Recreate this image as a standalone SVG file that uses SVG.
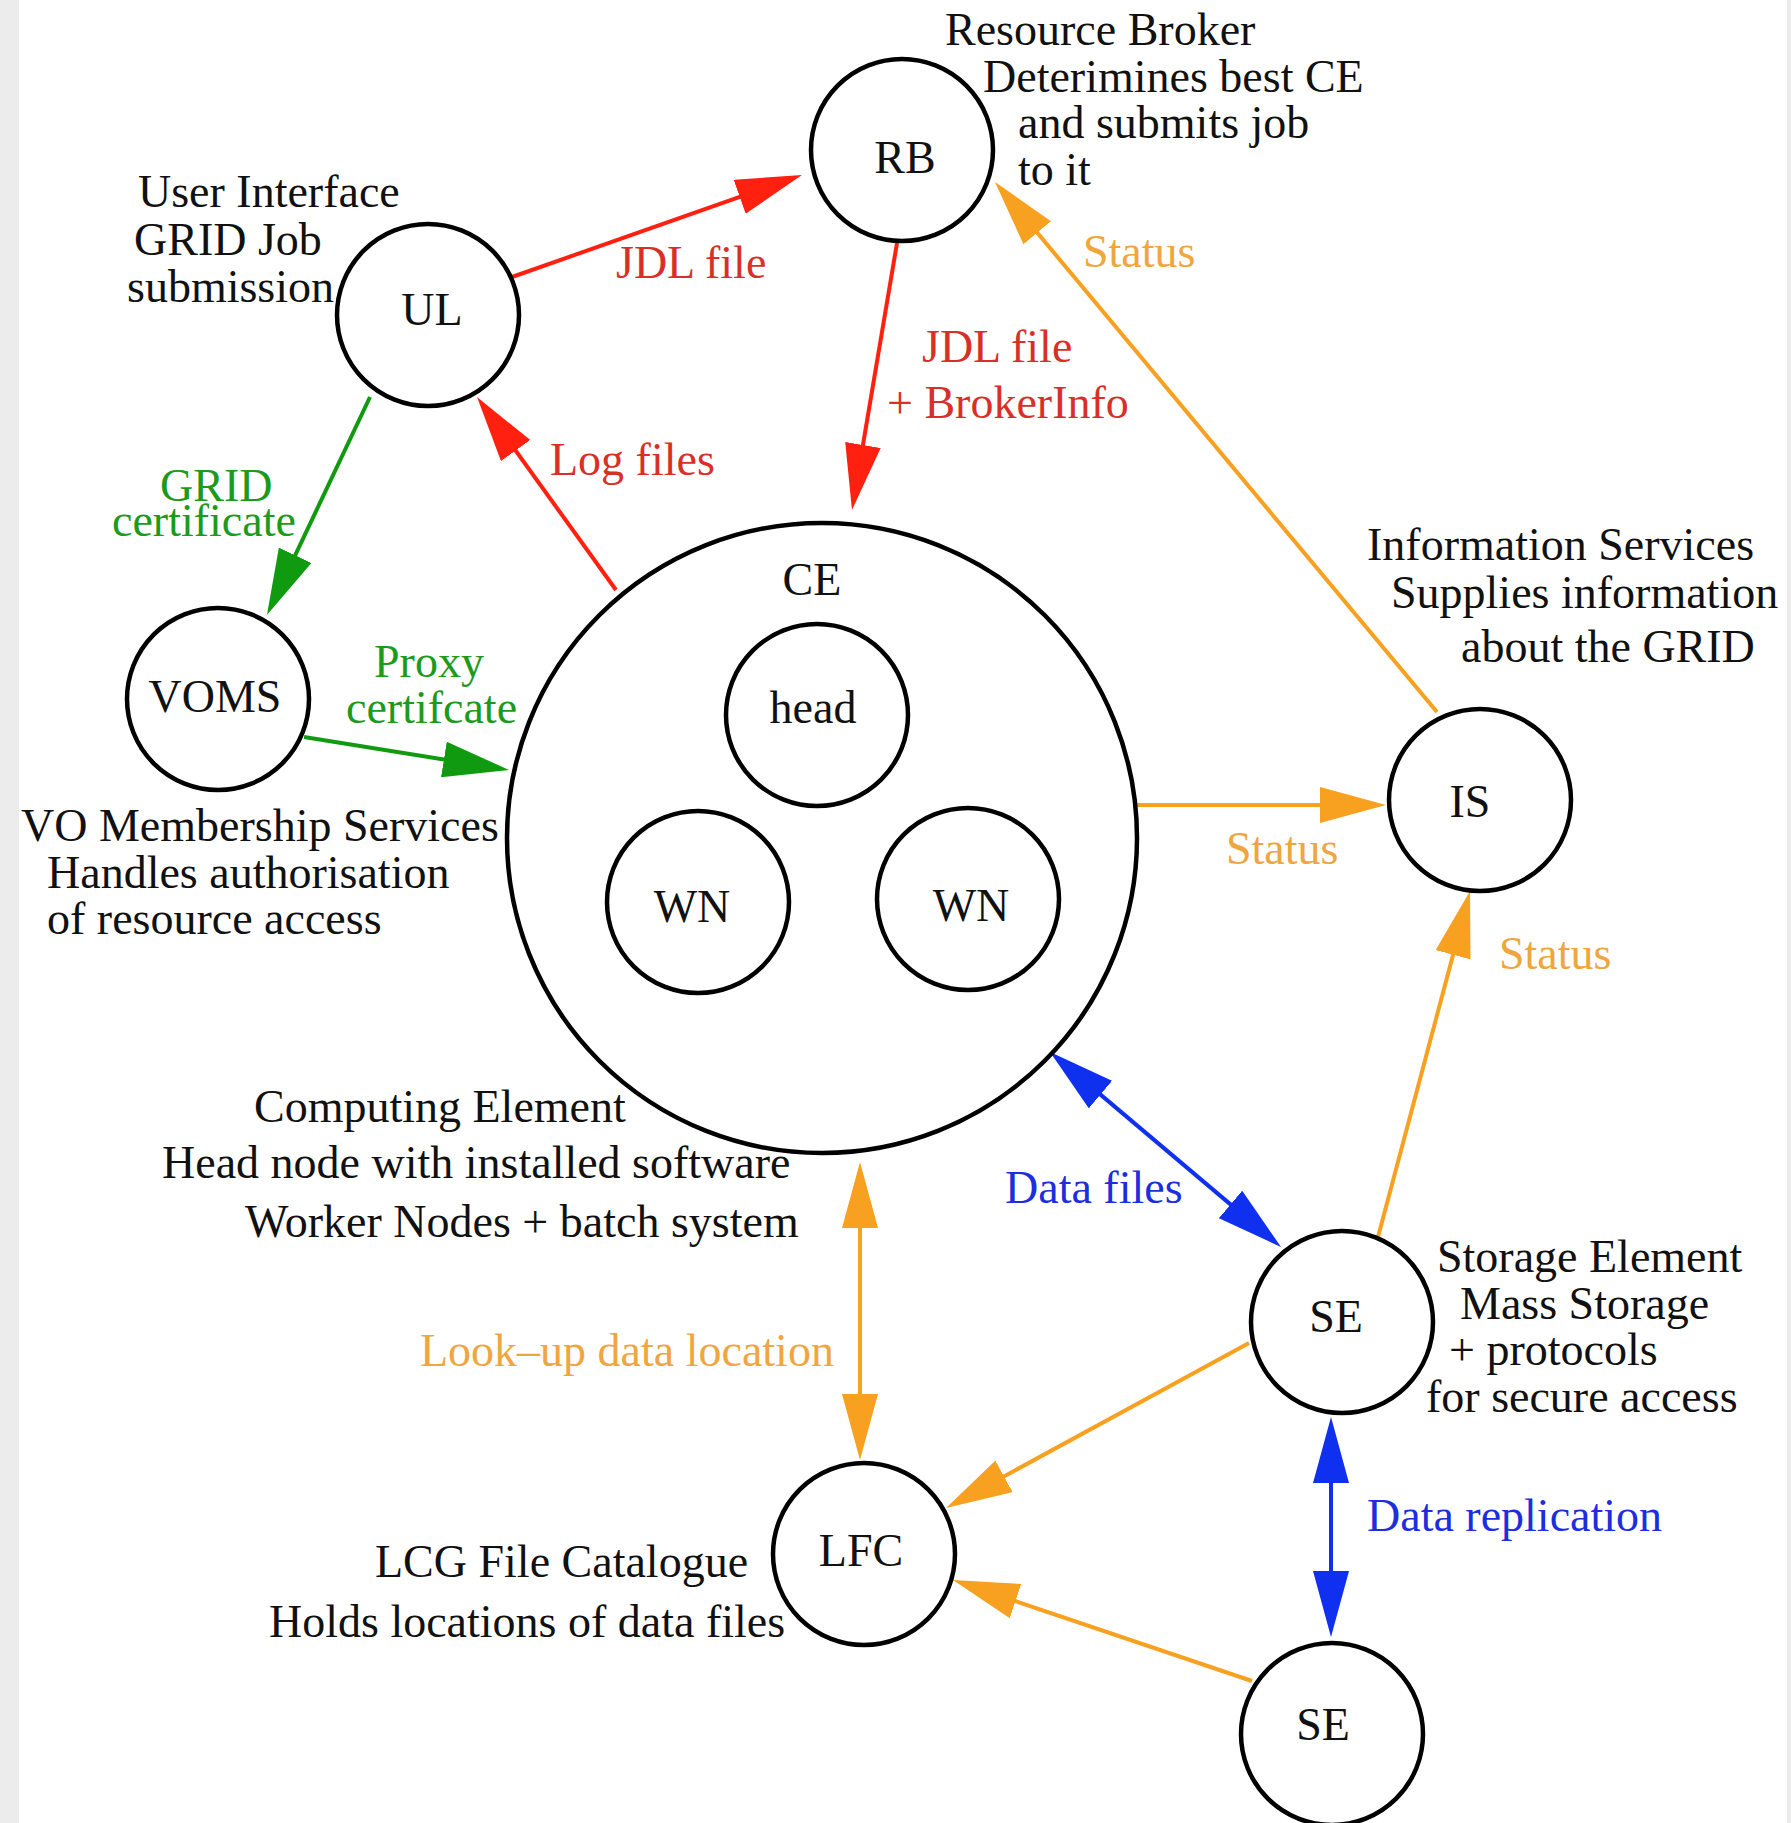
<svg xmlns="http://www.w3.org/2000/svg" width="1791" height="1823" viewBox="0 0 1791 1823">
<style>
  text { font-family: "Liberation Serif", "Times New Roman", serif; font-size: 46px; fill: #111; }
  .c { text-anchor: middle; }
  .node { fill: none; stroke: #000; stroke-width: 4.5; }
  .red { stroke: #ff2010; }
  .green { stroke: #109a10; }
  .orange { stroke: #f8a020; }
  .blue { stroke: #1030f0; }
  .ln { fill: none; stroke-width: 4; }
  .tr { fill: #d83028; }
  .tg { fill: #1c9a1c; }
  .to { fill: #f0a640; }
  .tb { fill: #1c2ee0; }
</style>
<defs>
  <marker id="ar" markerUnits="userSpaceOnUse" markerWidth="66" markerHeight="36" refX="46" refY="18" orient="auto-start-reverse"><path d="M0,0 L66,18 L0,36 Z" fill="#ff2010"/></marker>
  <marker id="ag" markerUnits="userSpaceOnUse" markerWidth="66" markerHeight="36" refX="46" refY="18" orient="auto-start-reverse"><path d="M0,0 L66,18 L0,36 Z" fill="#109a10"/></marker>
  <marker id="ao" markerUnits="userSpaceOnUse" markerWidth="66" markerHeight="36" refX="46" refY="18" orient="auto-start-reverse"><path d="M0,0 L66,18 L0,36 Z" fill="#f8a020"/></marker>
  <marker id="ab" markerUnits="userSpaceOnUse" markerWidth="66" markerHeight="36" refX="46" refY="18" orient="auto-start-reverse"><path d="M0,0 L66,18 L0,36 Z" fill="#1030f0"/></marker>
</defs>
<rect x="0" y="0" width="1791" height="1823" fill="#ffffff"/>
<rect x="0" y="0" width="19" height="1823" fill="#ececec"/>
<rect x="1787" y="0" width="4" height="1823" fill="#ebebeb"/>

<g id="connectors">
  <line class="ln red" x1="512" y1="277" x2="783.1" y2="181.6" marker-end="url(#ar)"/>
  <line class="ln red" x1="897" y1="243" x2="855.3" y2="490.3" marker-end="url(#ar)"/>
  <line class="ln red" x1="616" y1="590" x2="488.7" y2="413.2" marker-end="url(#ar)"/>
  <line class="ln green" x1="370" y1="397" x2="275.5" y2="596.9" marker-end="url(#ag)"/>
  <line class="ln green" x1="304" y1="737" x2="489.3" y2="766.8" marker-end="url(#ag)"/>
  <line class="ln orange" x1="1133" y1="805" x2="1366" y2="805" marker-end="url(#ao)"/>
  <line class="ln orange" x1="1437" y1="712" x2="1007.8" y2="197.4" marker-end="url(#ao)"/>
  <line class="ln orange" x1="1378" y1="1237" x2="1464.9" y2="910.3" marker-end="url(#ao)"/>
  <line class="ln orange" x1="860" y1="1182" x2="860" y2="1440" marker-start="url(#ao)" marker-end="url(#ao)"/>
  <line class="ln blue" x1="1065.3" y1="1064.9" x2="1265.7" y2="1234.1" marker-start="url(#ab)" marker-end="url(#ab)"/>
  <line class="ln orange" x1="1249" y1="1343" x2="963.6" y2="1498.4" marker-end="url(#ao)"/>
  <line class="ln orange" x1="1252" y1="1681" x2="971.9" y2="1586.4" marker-end="url(#ao)"/>
  <line class="ln blue" x1="1331" y1="1437" x2="1331" y2="1617" marker-start="url(#ab)" marker-end="url(#ab)"/>

  <text class="tr" x="616" y="278">JDL file</text>
  <text class="tr" x="922" y="362">JDL file</text>
  <text class="tr" x="887" y="418">+ BrokerInfo</text>
  <text class="tr" x="550" y="475">Log files</text>
  <text class="tg" x="160" y="501">GRID</text>
  <text class="tg" x="112" y="536">certificate</text>
  <text class="tg" x="374" y="677">Proxy</text>
  <text class="tg" x="346" y="723">certifcate</text>
  <text class="to" x="1083" y="267">Status</text>
  <text class="to" x="1226" y="864">Status</text>
  <text class="to" x="1499" y="969">Status</text>
  <text class="to" x="420" y="1366">Look–up data location</text>
  <text class="tb" x="1005" y="1203">Data files</text>
  <text class="tb" x="1367" y="1531">Data replication</text>
</g>

<g id="RB">
  <circle class="node" cx="902" cy="150" r="91"/>
  <text class="c" x="905" y="173">RB</text>
  <text x="945" y="45">Resource Broker</text>
  <text x="983" y="92">Deterimines best CE</text>
  <text x="1018" y="138">and submits job</text>
  <text x="1018" y="185">to it</text>
</g>

<g id="UL">
  <circle class="node" cx="428" cy="315" r="91"/>
  <text class="c" x="432" y="325">UL</text>
  <text x="138" y="207">User Interface</text>
  <text x="134" y="255">GRID Job</text>
  <text x="127" y="302">submission</text>
</g>

<g id="VOMS">
  <circle class="node" cx="218" cy="699" r="91"/>
  <text class="c" x="215" y="712">VOMS</text>
  <text x="21" y="841">VO Membership Services</text>
  <text x="47" y="888">Handles authorisation</text>
  <text x="47" y="934">of resource access</text>
</g>

<g id="CE">
  <circle class="node" cx="822" cy="838" r="315"/>
  <text class="c" x="812" y="595">CE</text>
  <text x="254" y="1122">Computing Element</text>
  <text x="162" y="1178">Head node with installed software</text>
  <text x="245" y="1237">Worker Nodes + batch system</text>
</g>

<g id="head">
  <circle class="node" cx="817" cy="715" r="91"/>
  <text class="c" x="813" y="723">head</text>
</g>

<g id="WN1">
  <circle class="node" cx="698" cy="902" r="91"/>
  <text class="c" x="692" y="922">WN</text>
</g>

<g id="WN2">
  <circle class="node" cx="968" cy="899" r="91"/>
  <text class="c" x="971" y="921">WN</text>
</g>

<g id="IS">
  <circle class="node" cx="1480" cy="800" r="91"/>
  <text class="c" x="1470" y="817">IS</text>
  <text x="1367" y="560">Information Services</text>
  <text x="1391" y="608">Supplies information</text>
  <text x="1461" y="662">about the GRID</text>
</g>

<g id="SE1">
  <circle class="node" cx="1342" cy="1322" r="91"/>
  <text class="c" x="1336" y="1332">SE</text>
  <text x="1437" y="1272">Storage Element</text>
  <text x="1460" y="1319">Mass Storage</text>
  <text x="1449" y="1365">+ protocols</text>
  <text x="1426" y="1412">for secure access</text>
</g>

<g id="LFC">
  <circle class="node" cx="864" cy="1554" r="91"/>
  <text class="c" x="861" y="1566">LFC</text>
  <text x="375" y="1577">LCG File Catalogue</text>
  <text x="269" y="1637">Holds locations of data files</text>
</g>

<g id="SE2">
  <circle class="node" cx="1332" cy="1734" r="91"/>
  <text class="c" x="1323" y="1740">SE</text>
</g>
</svg>
